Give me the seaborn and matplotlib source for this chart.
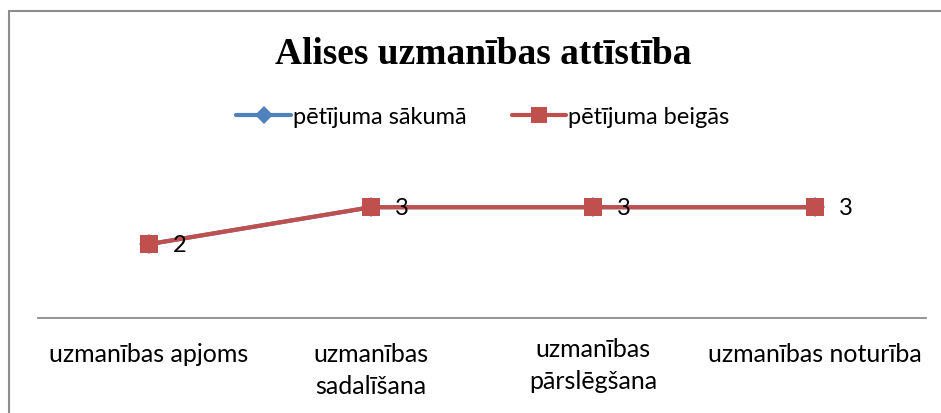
import matplotlib
matplotlib.use("Agg")
import matplotlib.pyplot as plt
import seaborn as sns
import pandas as pd
from matplotlib.lines import Line2D

categories = ["uzmanības apjoms", "uzmanības\nsadalīšana", "uzmanības\npārslēgšana", "uzmanības noturība"]
series_names = ["pētījuma sākumā", "pētījuma beigās"]
values_start = [2, 3, 3, 3]
values_end = [2, 3, 3, 3]
title = "Alises uzmanības attīstība"

df = pd.DataFrame({
    "cat": list(range(len(categories))) * 2,
    "val": values_start + values_end,
    "series": [series_names[0]] * len(categories) + [series_names[1]] * len(categories),
})

sns.set_theme(style="white")
plt.rcParams["font.family"] = ["Lato", "DejaVu Sans"]
plt.rcParams["text.color"] = "black"

fig = plt.figure(figsize=(9.41, 4.13), dpi=100)
ax = fig.add_axes([38 / 941, 1 - 318 / 413, (926 - 38) / 941, (318 - 174) / 413])

palette = {series_names[0]: "#4F81BD", series_names[1]: "#C0504D"}
sns.lineplot(data=df, x="cat", y="val", hue="series", style="series",
             markers={series_names[0]: "D", series_names[1]: "s"},
             dashes=False, palette=palette, linewidth=3.0, markersize=13,
             markeredgewidth=0, ax=ax, legend=False)
ax.lines[0].set_markersize(10)

ax.set_xlim(-0.5, len(categories) - 0.5)
ax.set_ylim(0, 3.9)
ax.set_xticks(range(len(categories)))
ax.set_xticklabels(categories, fontsize=18, color="black", linespacing=1.5)
ax.tick_params(axis="x", length=0, pad=18)
ax.get_xticklabels()[2].set_y(0.035)
ax.set_yticks([])
ax.set_xlabel("")
ax.set_ylabel("")
for s in ["top", "right", "left"]:
    ax.spines[s].set_visible(False)
ax.spines["bottom"].set_color("#8c8c8c")
ax.spines["bottom"].set_linewidth(1.3)

for i, v in enumerate(values_end):
    ax.annotate(str(v), (i, v), xytext=(17, -1), textcoords="offset points",
                ha="left", va="center", fontsize=17, color="black")

fig.text(483 / 941, 1 - 55 / 413, title, ha="center", va="center",
         fontsize=27, fontweight="bold", family="Liberation Serif", color="black")

handles = [
    Line2D([], [], color="#4F81BD", lw=3.0, marker="D", markersize=9, markeredgewidth=0),
    Line2D([], [], color="#C0504D", lw=3.0, marker="s", markersize=12, markeredgewidth=0),
]
fig.legend(handles, series_names, loc="center", bbox_to_anchor=(483 / 941, 1 - 117 / 413),
           ncol=2, frameon=False, fontsize=17, handlelength=2.3, handletextpad=0.1,
           columnspacing=1.9, labelcolor="black")

fig.add_artist(Line2D([8.5 / 941, 8.5 / 941], [0, 1 - 10.5 / 413], color="#8c8c8c", lw=1.5,
                      transform=fig.transFigure))
fig.add_artist(Line2D([8.5 / 941, 1], [1 - 10.5 / 413, 1 - 10.5 / 413], color="#8c8c8c", lw=1.5,
                      transform=fig.transFigure))

fig.savefig("out.png", dpi=100)
